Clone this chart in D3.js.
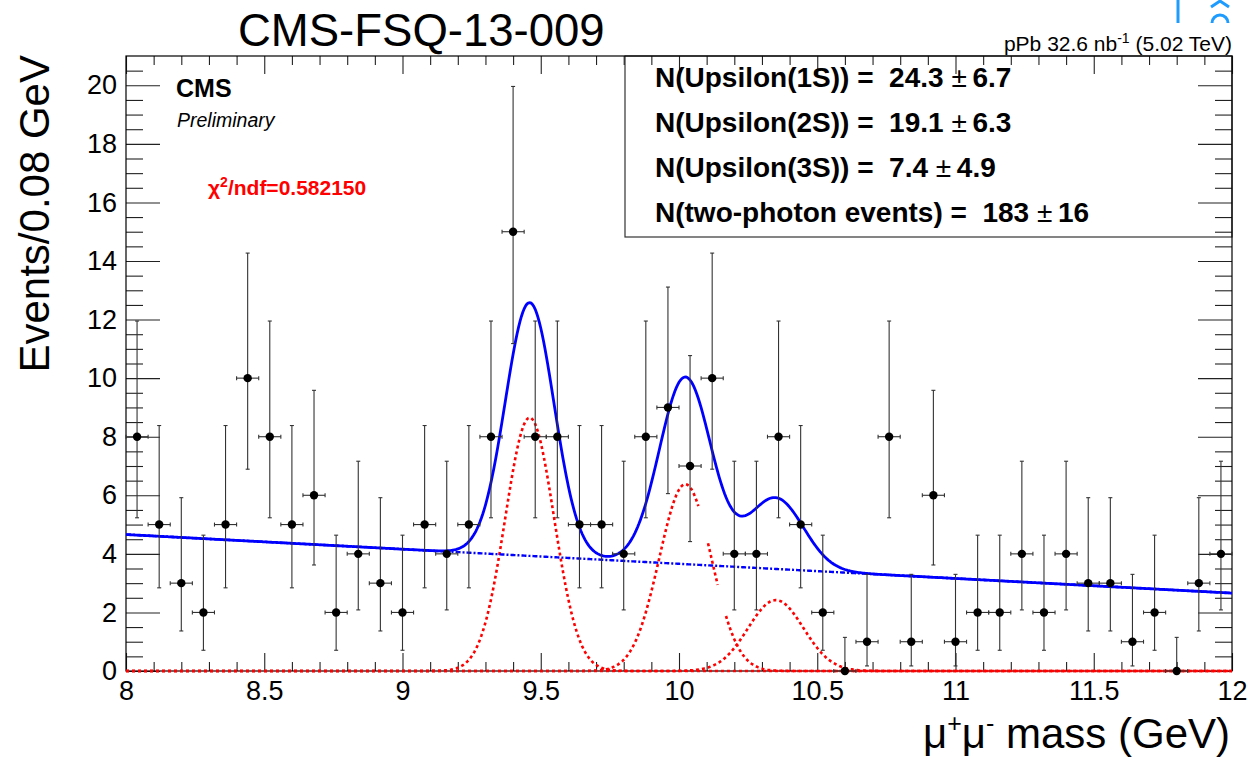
<!DOCTYPE html>
<html>
<head>
<meta charset="utf-8">
<script src="https://cdn.jsdelivr.net/npm/d3@7"></script>
<style>
  body { margin: 0; background: #fff; }
  svg { display: block; font-family: "Liberation Sans", Arial, Helvetica, sans-serif; }
  .tick line { stroke: #222; }
  .domain { display: none; }
</style>
</head>
<body>
<svg id="chart" width="1248" height="757"></svg>
<script>
// events per 0.08 GeV bin, 8 -> 12 GeV (50 bins)
const binStart = 8;
const binWidth = 0.08;
const counts = [8, 5, 3, 2, 5, 10, 8, 5, 6, 2,
                4, 3, 2, 5, 4, 5, 8, 15, 8, 8,
                5, 5, 4, 8, 9, 7, 10, 4, 4, 8,
                5, 2, 0, 1, 8, 1, 6, 1, 2, 2,
                4, 2, 4, 3, 3, 1, 2, 0, 3, 4];

// poisson 68% interval edges, indexed by count
const poissonLo = [0, 0.173, 0.708, 1.367, 2.086, 2.840, 3.620, 4.419, 5.232, 6.057, 6.891, 7.734, 8.585, 9.441, 10.31, 11.18];
const poissonHi = [1.148, 3.300, 4.638, 5.918, 7.163, 8.382, 9.584, 10.77, 11.95, 13.11, 14.27, 15.42, 16.56, 17.70, 18.83, 19.96];

// fit: linear background + three gaussians
const bgIntercept = 4.66;   // at 8 GeV
const bgSlope = -0.5;       // per GeV
const peakMass = [9.46, 10.023, 10.35];
const peakAmp = [8.65, 6.38, 2.42];
const peakSigma = [0.088, 0.094, 0.1];
// the 2S component is drawn with gaps in the original
const sig2Visible = [[8, 10.07], [10.105, 10.14], [10.17, 12]];

const xMajor = [8, 8.5, 9, 9.5, 10, 10.5, 11, 11.5, 12];
const yMajor = [0, 2, 4, 6, 8, 10, 12, 14, 16, 18, 20];

const yieldNames = ['N(Upsilon(1S))', 'N(Upsilon(2S))', 'N(Upsilon(3S))', 'N(two-photon events)'];
const yieldValues = ['24.3', '19.1', '7.4', '183'];
const yieldErrors = ['6.7', '6.3', '4.9', '16'];

const frame = {left: 126, right: 1232, top: 56, bottom: 671};

const svg = d3.select('#chart');

const x = d3.scaleLinear().domain([8, 12]).range([frame.left, frame.right]);
const y = d3.scaleLinear().domain([0, 21]).range([frame.bottom, frame.top]);

const xMinor = d3.range(80, 121).map(d => d / 10).filter(d => !xMajor.includes(d));
const yMinor = d3.range(0, 42).map(d => d / 2).filter(d => !yMajor.includes(d));

// legend box (under the axes, ticks show through)
svg.append('rect')
  .attr('x', 625).attr('y', frame.top)
  .attr('width', frame.right - 625).attr('height', 237 - frame.top)
  .attr('fill', 'none').attr('stroke', '#333').attr('stroke-width', 1.2);

// axes
const axes = svg.append('g');

axes.append('g').attr('transform', `translate(0,${frame.bottom})`)
  .call(d3.axisBottom(x).tickValues(xMajor).tickSize(-18).tickPadding(10).tickFormat(d3.format('')));
axes.append('g').attr('transform', `translate(0,${frame.bottom})`)
  .call(d3.axisBottom(x).tickValues(xMinor).tickSize(-9).tickFormat(''));
axes.append('g').attr('transform', `translate(0,${frame.top})`)
  .call(d3.axisTop(x).tickValues(xMajor).tickSize(-18).tickFormat(''));
axes.append('g').attr('transform', `translate(0,${frame.top})`)
  .call(d3.axisTop(x).tickValues(xMinor).tickSize(-9).tickFormat(''));

axes.append('g').attr('transform', `translate(${frame.left},0)`)
  .call(d3.axisLeft(y).tickValues(yMajor).tickSize(-34).tickPadding(9).tickFormat(d3.format('')));
axes.append('g').attr('transform', `translate(${frame.left},0)`)
  .call(d3.axisLeft(y).tickValues(yMinor).tickSize(-17).tickFormat(''));
axes.append('g').attr('transform', `translate(${frame.right},0)`)
  .call(d3.axisRight(y).tickValues(yMajor).tickSize(-34).tickFormat(''));
axes.append('g').attr('transform', `translate(${frame.right},0)`)
  .call(d3.axisRight(y).tickValues(yMinor).tickSize(-17).tickFormat(''));

axes.selectAll('g').attr('font-family', null).attr('font-size', 27);
axes.selectAll('text').attr('fill', '#000');
axes.selectAll('.tick line').attr('stroke', '#222').attr('stroke-width', 1.1);

svg.append('rect')
  .attr('x', frame.left).attr('y', frame.top)
  .attr('width', frame.right - frame.left).attr('height', frame.bottom - frame.top)
  .attr('fill', 'none').attr('stroke', '#000').attr('stroke-width', 1.2);

// curves
const masses = d3.range(0, 801).map(i => 8 + i * 0.005);
const bgAt = m => bgIntercept + bgSlope * (m - 8);
const peakAt = (k, m) => peakAmp[k] * Math.exp(-0.5 * ((m - peakMass[k]) / peakSigma[k]) ** 2);
const totalAt = m => bgAt(m) + peakAt(0, m) + peakAt(1, m) + peakAt(2, m);

const line = d3.line().x(d => x(d[0])).y(d => y(d[1]));
const curves = svg.append('g').attr('fill', 'none');

peakMass.forEach((pm, k) => {
  const ranges = k === 1 ? sig2Visible : [[8, 12]];
  ranges.forEach(r => {
    const pts = masses.filter(m => m >= r[0] - 1e-9 && m <= r[1] + 1e-9).map(m => [m, peakAt(k, m)]);
    curves.append('path')
      .attr('d', line(pts))
      .attr('stroke', '#ff0000')
      .attr('stroke-width', 2.6)
      .attr('stroke-dasharray', '3,3');
  });
});

curves.append('path')
  .attr('d', line(masses.map(m => [m, bgAt(m)])))
  .attr('stroke', '#0000ff')
  .attr('stroke-width', 2.4)
  .attr('stroke-dasharray', '5,2,2,2');

curves.append('path')
  .attr('d', line(masses.map(m => [m, totalAt(m)])))
  .attr('stroke', '#0000ff')
  .attr('stroke-width', 2.8);

// data points with error bars
const bins = counts.map((n, i) => ({
  m: binStart + binWidth * (i + 0.5),
  n: n,
  lo: poissonLo[n],
  hi: poissonHi[n]
}));

const pts = svg.append('g').selectAll('.pt').data(bins).join('g').attr('class', 'pt');
const errColor = '#333';

pts.append('line')
  .attr('x1', d => x(d.m)).attr('x2', d => x(d.m))
  .attr('y1', d => y(d.lo)).attr('y2', d => y(d.hi))
  .attr('stroke', errColor).attr('stroke-width', 1.1);
pts.append('line')
  .attr('x1', d => x(d.m - binWidth / 2)).attr('x2', d => x(d.m + binWidth / 2))
  .attr('y1', d => y(d.n)).attr('y2', d => y(d.n))
  .attr('stroke', errColor).attr('stroke-width', 1.1);
// end caps
[d => d.lo, d => d.hi].forEach(f => {
  pts.append('line')
    .attr('x1', d => x(d.m) - 2).attr('x2', d => x(d.m) + 2)
    .attr('y1', d => y(f(d))).attr('y2', d => y(f(d)))
    .attr('stroke', errColor).attr('stroke-width', 1.1);
});
[-1, 1].forEach(s => {
  pts.append('line')
    .attr('x1', d => x(d.m + s * binWidth / 2)).attr('x2', d => x(d.m + s * binWidth / 2))
    .attr('y1', d => y(d.n) - 2).attr('y2', d => y(d.n) + 2)
    .attr('stroke', errColor).attr('stroke-width', 1.1);
});
pts.append('circle')
  .attr('cx', d => x(d.m)).attr('cy', d => y(d.n))
  .attr('r', 4.2).attr('fill', '#000');

// legend text
const leg = svg.append('g').attr('font-size', 28).attr('font-weight', 'bold');
yieldNames.forEach((name, i) => {
  const t = leg.append('text')
    .attr('xml:space', 'preserve')
    .attr('x', 655).attr('y', 87 + i * 45);
  t.append('tspan').text(`${name} =  ${yieldValues[i]} `);
  t.append('tspan').attr('font-weight', 'normal').text('\u00b1');
  t.append('tspan').text(`\u2009${yieldErrors[i]}`);
});

// labels
svg.append('text')
  .attr('x', 238).attr('y', 46)
  .attr('font-size', 45.5)
  .text('CMS-FSQ-13-009');

const lumi = svg.append('text')
  .attr('x', 1232).attr('y', 51)
  .attr('text-anchor', 'end')
  .attr('font-size', 21);
lumi.append('tspan').text('pPb 32.6 nb');
lumi.append('tspan').attr('dy', -8).attr('font-size', 14).text('-1');
lumi.append('tspan').attr('dy', 8).text(' (5.02 TeV)');

svg.append('text')
  .attr('x', 176).attr('y', 97)
  .attr('font-size', 25).attr('font-weight', 'bold')
  .text('CMS');
svg.append('text')
  .attr('x', 177).attr('y', 127)
  .attr('font-size', 19.5).attr('font-style', 'italic')
  .text('Preliminary');

const chi = svg.append('text')
  .attr('x', 208).attr('y', 195)
  .attr('font-size', 21).attr('font-weight', 'bold')
  .attr('fill', '#ff0000');
chi.append('tspan').text('\u03c7');
chi.append('tspan').attr('dy', -8).attr('font-size', 14).text('2');
chi.append('tspan').attr('dy', 8).text('/ndf=0.582150');

svg.append('text')
  .attr('transform', 'translate(49,55) rotate(-90)')
  .attr('text-anchor', 'end')
  .attr('font-size', 42)
  .text('Events/0.08 GeV');

const xt = svg.append('text')
  .attr('x', 1230).attr('y', 748)
  .attr('text-anchor', 'end')
  .attr('font-size', 42);
xt.append('tspan').text('\u03bc');
xt.append('tspan').attr('dy', -16).attr('font-size', 25).text('+');
xt.append('tspan').attr('dy', 16).text('\u03bc');
xt.append('tspan').attr('dy', -16).attr('font-size', 25).text('-');
xt.append('tspan').attr('dy', 16).text(' mass (GeV)');

// small blue marks in the corner of the screenshot
const icon = svg.append('g').attr('stroke', '#1e9bff').attr('fill', 'none').attr('stroke-width', 3);
icon.append('line').attr('x1', 1178).attr('x2', 1178).attr('y1', 0).attr('y2', 23);
icon.append('path').attr('d', 'M1211,7 L1220,1 L1229,7');
icon.append('path').attr('d', 'M1212,23 A8,8 0 0 1 1228,23');
</script>
</body>
</html>
